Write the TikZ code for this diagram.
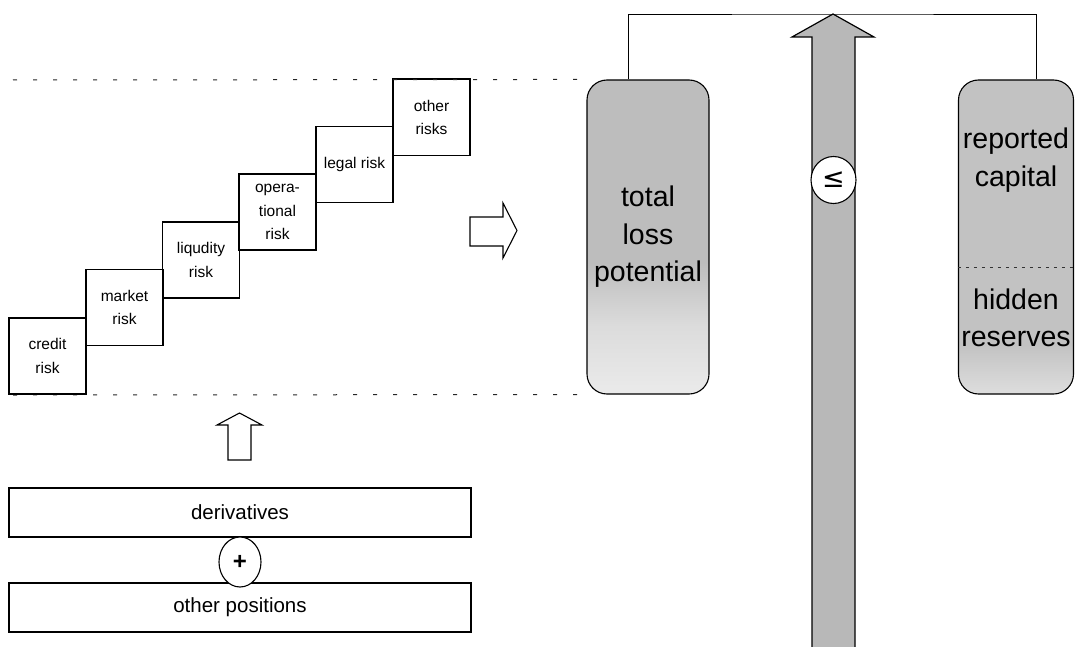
\documentclass[tikz,border=0pt]{standalone}
\usepackage{fontspec}
\setmainfont{Liberation Sans}
\newfontfamily\symfnt{DejaVu Sans}
\usetikzlibrary{shapes.geometric}
\pgfdeclareverticalshading{tlpshade}{100bp}{color(0bp)=(black!8); color(25bp)=(black!8); color(36bp)=(black!14); color(46bp)=(black!26); color(100bp)=(black!26)}
\pgfdeclareverticalshading{rcshade}{100bp}{color(0bp)=(black!13); color(25bp)=(black!13); color(33bp)=(black!24); color(100bp)=(black!24)}
\begin{document}
\begin{tikzpicture}[x=1pt,y=-1pt,line width=1.1pt,
  riskbox/.style={draw, minimum width=77pt, minimum height=76pt, align=center, inner sep=0pt,
    font=\fontsize{15.5}{23.5}\selectfont},
  posbox/.style={draw, minimum width=462pt, minimum height=49pt, inner sep=0pt,
    font=\fontsize{20.5}{24}\selectfont},
  bigbox/.style={draw, rounded corners=20pt, minimum width=122pt, minimum height=314pt, inner sep=0pt},
  bigtext/.style={align=center, font=\fontsize{28.5}{37.5}\selectfont},
  hollow/.style={draw, fill=white, line width=1.1pt, line join=miter},
  dashline/.style={draw=black!85, line width=1pt, dash pattern=on 4pt off 16pt},
  opnode/.style={draw, fill=white, ellipse, inner sep=0pt}
]
\useasboundingbox (0,0) rectangle (1075,647);

% dashed band
\coordinate (dtl) at (13,80);
\coordinate (dbl) at (13,395);

% risk staircase
\node[riskbox] (cr) at (47.5,356) {credit\\risk};
\node[riskbox] (mr) at (124.5,307.5) {market\\risk};
\node[riskbox] (lq) at (201,260) {liqudity\\risk};
\node[riskbox] (op) at (277.5,212) {opera-\\tional\\risk};
\node[riskbox] (lg) at (354.5,164.5) {legal risk};
\node[riskbox] (ot) at (431.5,117.5) {other\\risks};

% total loss potential box
\node[bigbox, shading=tlpshade, bigtext] (tl) at (648,237) {total\\loss\\potential};
\draw[dashline] (dtl) -- (tl.north west);
\draw[dashline] (dbl) -- (tl.south west);
\draw (cr.south west) -- (cr.south east);
\draw (ot.north west) -- (ot.north east);

% reported capital box
\node[draw, rounded corners=20pt, minimum width=115pt, minimum height=314pt, inner sep=0pt, shading=rcshade] (rc) at (1016,237) {};
\node[bigtext] (rcap) at (1016,160) {reported\\capital};
\node[bigtext] (hres) at (1016,318) {hidden\\reserves};
\draw[draw=black!80, line width=0.8pt, dash pattern=on 3pt off 5pt] (rc.west |- 0,267) -- (rc.east |- 0,267);

% hollow arrows
\path[hollow] (470,217) -- (503,217) -- (503,203) -- (517,230.5) -- (503,258) -- (503,246) -- (470,246) -- cycle;
\path[hollow] (228,460) -- (228,425) -- (217,425) -- (239.5,413) -- (262,425) -- (251,425) -- (251,460) -- cycle;

% big comparison arrow
\coordinate (tip) at (833,14);
\path[draw, fill=black!28, line width=1.2pt, line join=miter] (812,650) -- (812,37) -- (792,37) -- (tip) -- (874,37) -- (855,37) -- (855,650) -- cycle;
\node[opnode, minimum width=45pt, minimum height=47pt, font=\symfnt\fontsize{27}{28}\selectfont] (le) at (833.5,180) {≤};

% connector over the arrow
\draw[line width=0.9pt] ([xshift=-20pt]tl.north) |- (tip) -| ([xshift=20pt]rc.north);

% positions
\node[posbox] (der) at (240,512.5) {derivatives};
\node[posbox] (oth) at (240,607.5) {other positions};
\node[opnode, minimum width=42pt, minimum height=50pt, font=\fontsize{24}{26}\selectfont\bfseries] (plus) at (240,562) {+};
\end{tikzpicture}
\end{document}
